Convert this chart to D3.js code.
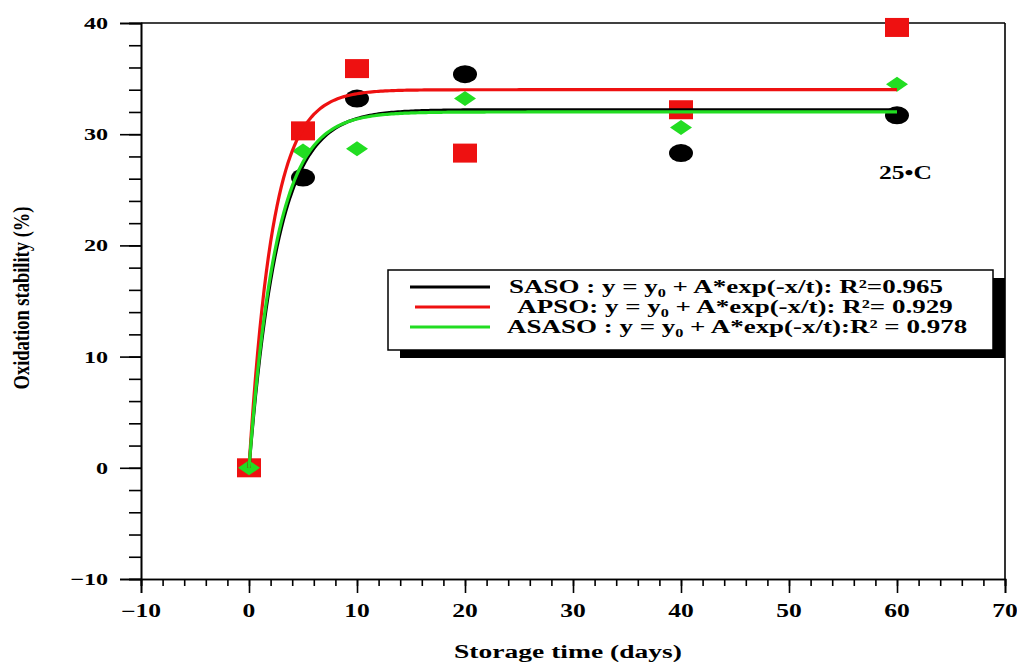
<!DOCTYPE html>
<html>
<head>
<meta charset="utf-8">
<script src="https://cdn.jsdelivr.net/npm/d3@7"></script>
<style>
  html, body { margin: 0; padding: 0; background: #fff; }
  svg { display: block; }
  text { font-family: "Liberation Serif", "Times New Roman", serif; font-weight: bold; fill: #000; }
</style>
</head>
<body>
<svg id="chart" width="1017" height="662"></svg>
<script>
// Storage time (days) and measured oxidation stability (%)
const days = [0, 5, 10, 20, 40, 60];
const saso = [0, 26.1, 33.2, 35.4, 28.3, 31.7];
const apso = [0, 30.3, 35.9, 28.3, 32.2, 39.6];
const asaso = [0, 28.5, 28.7, 33.2, 30.6, 34.5];

// Exponential fit parameters: y = y0 + A*exp(-x/t)
const fitSaso = { y0: 32.2, A: -32.2, t: 2.7 };
const fitApso = { y0: 34.0, A: -34.0, t: 2.2 };
const fitAsaso = { y0: 32.0, A: -32.0, t: 2.55 };

const xTicks = [-10, 0, 10, 20, 30, 40, 50, 60, 70];
const yTicks = [-10, 0, 10, 20, 30, 40];

const legendLabels = [
  "SASO : y = y\u2080 + A*exp(-x/t): R\u00B2=0.965",
  " APSO: y = y\u2080 + A*exp(-x/t): R\u00B2= 0.929",
  "ASASO : y = y\u2080 + A*exp(-x/t):R\u00B2 = 0.978"
];

const colors = { saso: "#000000", apso: "#ee1111", asaso: "#22dd22" };
const SX = 1.42; // horizontal stretch of lettering

const svg = d3.select("#chart");
const plotL = 141, plotR = 1005, plotT = 23, plotB = 579;

const x = d3.scaleLinear().domain([-10, 70]).range([plotL, plotR]);
const y = d3.scaleLinear().domain([-10, 40]).range([plotB, plotT]);

// Frame: top and right edges
svg.append("line").attr("x1", plotL).attr("x2", plotR).attr("y1", plotT).attr("y2", plotT)
  .attr("stroke", "#000").attr("stroke-width", 1.6);
svg.append("line").attr("x1", plotR).attr("x2", plotR).attr("y1", plotT).attr("y2", plotB)
  .attr("stroke", "#000").attr("stroke-width", 1.6);

// Y axis: major and minor ticks
const yAxisMinor = d3.axisLeft(y).tickValues(d3.range(-10, 40.1, 2)).tickSize(12).tickFormat("");
const yAxisMajor = d3.axisLeft(y).tickValues(yTicks).tickSize(21).tickFormat("");
[yAxisMinor, yAxisMajor].forEach(ax => {
  const g = svg.append("g").attr("transform", `translate(${plotL},0)`).call(ax);
  g.selectAll("line").attr("stroke", "#000").attr("stroke-width", 1.6);
  g.select(".domain").attr("stroke", "#000").attr("stroke-width", 1.6);
});
const yLab = svg.append("g");
yTicks.forEach(v => {
  yLab.append("text")
    .attr("transform", `translate(108,${y(v) + 6}) scale(${SX},1)`)
    .attr("text-anchor", "end")
    .style("font-size", "17px")
    .text(String(v).replace("-", "\u2212"));
});

// X axis: major and minor ticks
const xAxisMinor = d3.axisBottom(x).tickValues(d3.range(-10, 70.1, 2)).tickSize(7).tickFormat("");
const xAxisMajor = d3.axisBottom(x).tickValues(xTicks).tickSize(14).tickFormat("");
[xAxisMinor, xAxisMajor].forEach(ax => {
  const g = svg.append("g").attr("transform", `translate(0,${plotB})`).call(ax);
  g.selectAll("line").attr("stroke", "#000").attr("stroke-width", 1.6);
  g.select(".domain").attr("stroke", "#000").attr("stroke-width", 1.6);
});
const xLab = svg.append("g");
xTicks.forEach(v => {
  xLab.append("text")
    .attr("transform", `translate(${x(v)},617) scale(${SX},1)`)
    .attr("text-anchor", "middle")
    .style("font-size", "18px")
    .text(String(v).replace("-", "\u2212"));
});

// Axis titles
svg.append("text")
  .attr("transform", `translate(568,658) scale(1.45,1)`)
  .attr("text-anchor", "middle")
  .style("font-size", "19px")
  .text("Storage time (days)");
svg.append("text")
  .attr("transform", `translate(29,298) rotate(-90) scale(1,1.25)`)
  .attr("text-anchor", "middle")
  .style("font-size", "18.5px")
  .text("Oxidation stability (%)");

// Data markers
const pts = (vals) => days.map((d, i) => ({ d, v: vals[i] }));
svg.append("g").selectAll("ellipse").data(pts(saso)).join("ellipse")
  .attr("cx", p => x(p.d)).attr("cy", p => y(p.v))
  .attr("rx", 12).attr("ry", 9).attr("fill", colors.saso);
svg.append("g").selectAll("rect").data(pts(apso)).join("rect")
  .attr("x", p => x(p.d) - 12).attr("y", p => y(p.v) - 9.5)
  .attr("width", 24).attr("height", 19).attr("fill", colors.apso);
svg.append("g").selectAll("path").data(pts(asaso)).join("path")
  .attr("d", p => {
    const cx = x(p.d), cy = y(p.v);
    return `M${cx - 11},${cy} L${cx},${cy - 7.5} L${cx + 11},${cy} L${cx},${cy + 7.5} Z`;
  })
  .attr("fill", colors.asaso);

// Fitted curves
const xs = d3.range(0, 60.001, 0.2);
const line = d3.line().x(p => x(p[0])).y(p => y(p[1]));
[[fitSaso, colors.saso], [fitApso, colors.apso], [fitAsaso, colors.asaso]].forEach(([f, c]) => {
  svg.append("path")
    .datum(xs.map(t => [t, f.y0 + f.A * Math.exp(-t / f.t)]))
    .attr("d", line)
    .attr("fill", "none")
    .attr("stroke", c)
    .attr("stroke-width", 3.2);
});

// Temperature note
svg.append("text")
  .attr("transform", `translate(879,179) scale(${SX},1)`)
  .style("font-size", "18px")
  .text("25\u2022C");

// Legend with drop shadow
const lg = svg.append("g");
lg.append("rect").attr("x", 400).attr("y", 278).attr("width", 605).attr("height", 80).attr("fill", "#000");
lg.append("rect").attr("x", 388).attr("y", 270).attr("width", 605).attr("height", 80)
  .attr("fill", "#fff").attr("stroke", "#000").attr("stroke-width", 1.5);
const legendColors = [colors.saso, colors.apso, colors.asaso];
const legendStart = [410, 415, 410];
const textStart = [509, 512, 507];
legendLabels.forEach((lab, i) => {
  const ly = 287 + i * 20;
  lg.append("line").attr("x1", legendStart[i]).attr("x2", 490).attr("y1", ly).attr("y2", ly)
    .attr("stroke", legendColors[i]).attr("stroke-width", 3.2);
  lg.append("text")
    .attr("transform", `translate(${textStart[i]},${ly + 6}) scale(${SX},1)`)
    .style("font-size", "19px")
    .style("white-space", "pre")
    .attr("xml:space", "preserve")
    .text(lab);
});
</script>
</body>
</html>
